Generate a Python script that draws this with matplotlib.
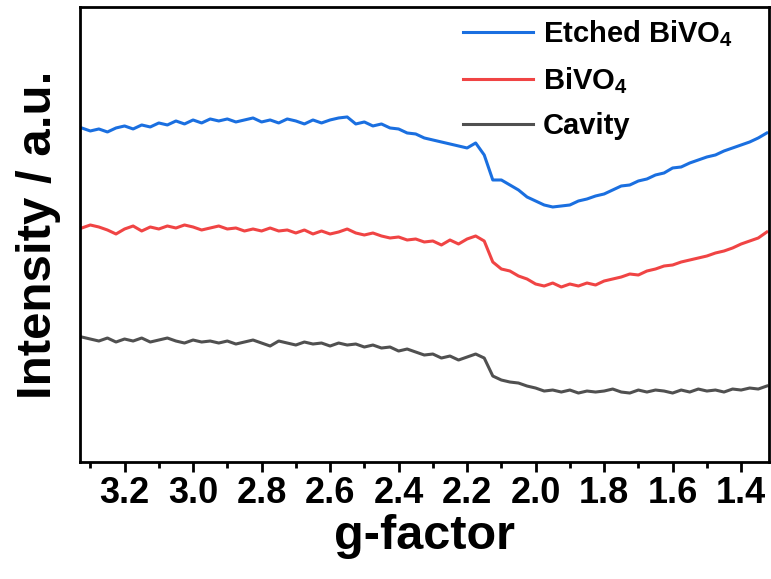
import matplotlib
matplotlib.use("Agg")
import matplotlib.pyplot as plt
from matplotlib.ticker import MultipleLocator, FormatStrFormatter

# g-factor sample positions
g_factor = [
    3.325, 3.300, 3.275, 3.250, 3.225, 3.200, 3.175, 3.150, 3.125, 3.100,
    3.075, 3.050, 3.025, 3.000, 2.975, 2.950, 2.925, 2.900, 2.875, 2.850,
    2.825, 2.800, 2.775, 2.750, 2.725, 2.700, 2.675, 2.650, 2.625, 2.600,
    2.575, 2.550, 2.525, 2.500, 2.475, 2.450, 2.425, 2.400, 2.375, 2.350,
    2.325, 2.300, 2.275, 2.250, 2.225, 2.200, 2.175, 2.150, 2.125, 2.100,
    2.075, 2.050, 2.025, 2.000, 1.975, 1.950, 1.925, 1.900, 1.875, 1.850,
    1.825, 1.800, 1.775, 1.750, 1.725, 1.700, 1.675, 1.650, 1.625, 1.600,
    1.575, 1.550, 1.525, 1.500, 1.475, 1.450, 1.425, 1.400, 1.375, 1.350,
    1.325,
]

# intensities (a.u., curves already offset as in the figure)
etched = [
    334, 331, 333, 330, 334, 336, 333, 337, 335, 339,
    337, 341, 338, 342, 339, 343, 341, 343, 340, 342,
    344, 340, 342, 339, 343, 341, 338, 342, 339, 342,
    344, 345, 338, 340, 336, 338, 334, 333, 329, 328,
    324, 322, 320, 318, 316, 314, 319, 307, 282, 282,
    277, 272, 265, 261, 257, 255, 256, 257, 261, 263,
    266, 268, 272, 276, 277, 281, 283, 287, 289, 294,
    295, 299, 302, 305, 307, 311, 314, 317, 320, 324,
    329,
]
bivo4 = [
    234, 237, 235, 232, 228, 233, 236, 231, 235, 233,
    236, 234, 237, 235, 232, 234, 236, 233, 234, 231,
    233, 231, 234, 231, 232, 229, 232, 228, 231, 228,
    230, 233, 229, 227, 229, 226, 224, 225, 222, 223,
    220, 221, 217, 222, 218, 223, 226, 221, 200, 193,
    191, 186, 183, 178, 176, 179, 175, 178, 176, 179,
    177, 181, 183, 185, 188, 187, 191, 193, 196, 197,
    200, 202, 204, 206, 209, 211, 214, 218, 221, 224,
    230,
]
cavity = [
    125, 123, 121, 124, 120, 123, 121, 124, 120, 122,
    124, 121, 119, 122, 120, 121, 119, 121, 118, 120,
    122, 119, 116, 121, 119, 117, 120, 118, 119, 116,
    119, 117, 118, 115, 117, 114, 115, 111, 113, 110,
    107, 108, 104, 106, 102, 105, 108, 104, 86, 82,
    80, 79, 76, 74, 71, 72, 70, 72, 69, 71,
    70, 71, 73, 70, 69, 72, 70, 72, 71, 69,
    72, 70, 73, 71, 72, 70, 73, 72, 74, 73,
    76,
]

labels = [r"Etched BiVO$_4$", r"BiVO$_4$", "Cavity"]
colors = ["#1a6fe0", "#f04444", "#505050"]

plt.rcParams.update({
    "font.family": ["Liberation Sans", "DejaVu Sans"],
    "font.weight": "bold",
    "mathtext.fontset": "custom",
    "mathtext.rm": "Liberation Sans:bold",
    "mathtext.bf": "Liberation Sans:bold",
    "mathtext.default": "bf",
})

fig = plt.figure(figsize=(7.71, 5.79), dpi=100)
ax = fig.add_axes([0.1038, 0.202, 0.893, 0.786])

for ys, lab, col in zip([etched, bivo4, cavity], labels, colors):
    ax.plot(g_factor, ys, color=col, lw=2.2, label=lab)

ax.set_xlim(3.33, 1.32)
ax.set_ylim(0, 455)
ax.xaxis.set_major_locator(MultipleLocator(0.2))
ax.xaxis.set_minor_locator(MultipleLocator(0.1))
ax.xaxis.set_major_formatter(FormatStrFormatter("%.1f"))
ax.tick_params(axis="x", which="major", direction="out", length=7, width=2,
               labelsize=26, pad=3)
ax.tick_params(axis="x", which="minor", direction="out", length=4, width=2)
ax.set_yticks([])
for s in ax.spines.values():
    s.set_linewidth(2.0)

ax.set_xlabel("g-factor", fontsize=35, fontweight="bold", labelpad=2)
ax.set_ylabel("Intensity / a.u.", fontsize=35.5, fontweight="bold", labelpad=14)

ax.legend(loc="upper right", frameon=False, fontsize=21, handlelength=2.4,
          handletextpad=0.35, labelspacing=0.55, borderaxespad=0.0,
          bbox_to_anchor=(0.965, 1.0))

fig.savefig("out.png", dpi=100)
